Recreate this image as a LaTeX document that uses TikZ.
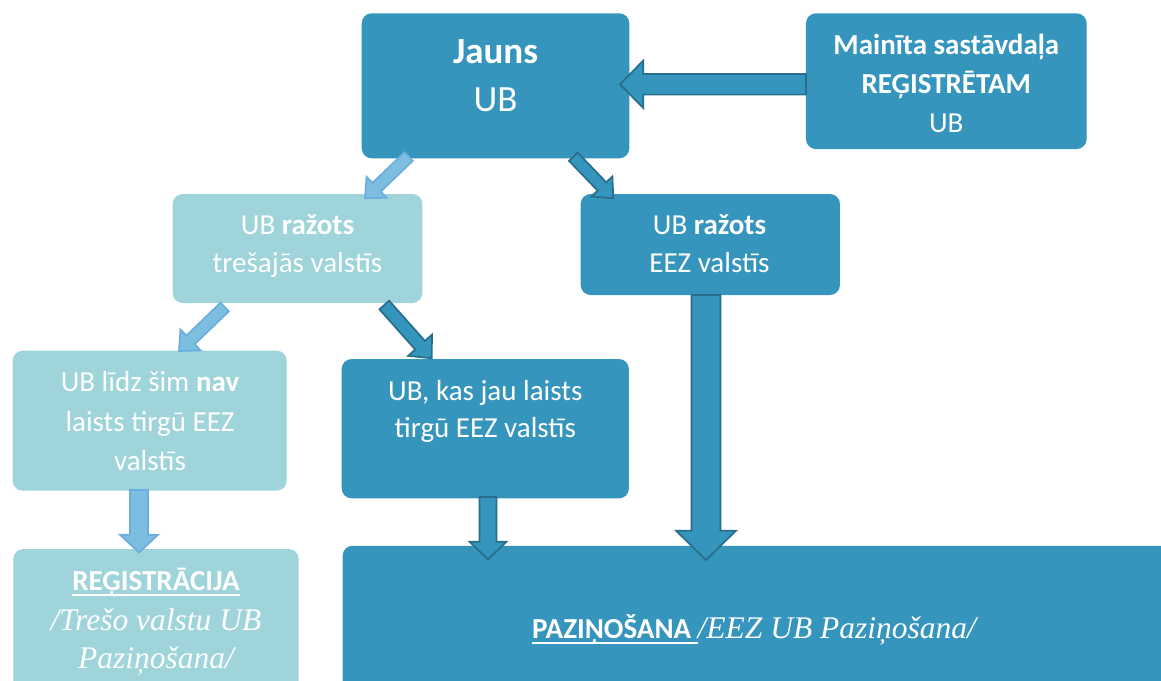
\documentclass[tikz,border=0pt]{standalone}
\usepackage{fontspec}
\setmainfont{Carlito}
\newfontfamily\tnr{Liberation Serif}
\usetikzlibrary{calc}
\definecolor{dk}{RGB}{53,149,188}
\definecolor{dkline}{RGB}{38,110,140}
\definecolor{lt}{RGB}{158,212,218}
\definecolor{la}{RGB}{125,189,224}
\definecolor{laline}{RGB}{106,174,222}
\newcommand\myul[1]{{\setbox0\hbox{#1}\rlap{\rule[-5.2pt]{\wd0}{1.9pt}}\box0}}
\newcommand\blockarr[6]{%
  \coordinate (ba-h) at ($(#3)!#6!(#2)$);
  \draw[#1] ($(#2)!#4!90:(#3)$) -- ($(ba-h)!#4!90:(#3)$) -- ($(ba-h)!#5!90:(#3)$) -- (#3) -- ($(ba-h)!#5!-90:(#3)$) -- ($(ba-h)!#4!-90:(#3)$) -- ($(#2)!#4!-90:(#3)$) -- cycle;}
\tikzset{
  box/.style={rectangle, rounded corners=10pt, inner sep=0pt, draw=none},
  darkbox/.style={box, fill=dk},
  lightbox/.style={box, fill=lt},
  txt/.style={anchor=base, inner sep=0pt, text=white, font=\fontsize{29pt}{39pt}\selectfont},
  bigtxt/.style={txt, font=\fontsize{37pt}{42pt}\selectfont},
  serif/.style={txt, font=\tnr\itshape\fontsize{31.5pt}{38pt}\selectfont},
  darkarrow/.style={fill=dk, draw=dkline, line width=1.7pt, line join=miter},
  lightarrow/.style={fill=la, draw=laline, line width=1.7pt, line join=miter},
}
\begin{document}
\begin{tikzpicture}[x=1pt,y=-1pt]
\useasboundingbox (0,0) rectangle (1161,680);
\clip (0,0) rectangle (1161,680);
% boxes
\node[darkbox, minimum width=267.6pt, minimum height=145pt] (jauns) at (495.5,85.8) {};
\node[darkbox, minimum width=280.7pt, minimum height=135.7pt] (mainita) at (946.3,81.2) {};
\node[lightbox, minimum width=249.6pt, minimum height=109pt] (tres) at (297.5,248.5) {};
\node[darkbox, minimum width=259.3pt, minimum height=101pt] (eez) at (710.3,244.5) {};
\node[lightbox, minimum width=274pt, minimum height=140pt] (nav) at (149.7,420.7) {};
\node[darkbox, minimum width=287.3pt, minimum height=139.3pt] (kas) at (485.3,428.7) {};
\node[lightbox, minimum width=285.4pt, minimum height=151pt] (reg) at (156,624.5) {};
\node[darkbox, minimum width=837.4pt, minimum height=154.3pt] (paz) at (761.3,622.9) {};
% arrow end points
\coordinate (m-t) at (806,84.3);   \coordinate (m-h) at (620,84.3);
\coordinate (j1-t) at (408.7,156.5); \coordinate (j1-h) at (365,198.3);
\coordinate (j2-t) at (573.3,156.7); \coordinate (j2-h) at (613.3,198.3);
\coordinate (t1-t) at (224.7,307);   \coordinate (t1-h) at (179,351);
\coordinate (t2-t) at (384.3,305);   \coordinate (t2-h) at (431.7,358.3);
\coordinate (n-t) at (139,490);      \coordinate (n-h) at (139,552.5);
\coordinate (k-t) at (488,497);      \coordinate (k-h) at (488,559.3);
\coordinate (e-t) at (706,295);      \coordinate (e-h) at (706,560);
% arrows
\blockarr{darkarrow}{m-t}{m-h}{10.3pt}{23.8pt}{23.3pt}
\blockarr{lightarrow}{j1-t}{j1-h}{6pt}{14.5pt}{16pt}
\blockarr{darkarrow}{j2-t}{j2-h}{6pt}{14.5pt}{16.4pt}
\blockarr{lightarrow}{t1-t}{t1-h}{6pt}{14.5pt}{16pt}
\blockarr{darkarrow}{t2-t}{t2-h}{6.5pt}{16pt}{17.5pt}
\blockarr{lightarrow}{n-t}{n-h}{9pt}{19pt}{17.7pt}
\blockarr{darkarrow}{k-t}{k-h}{8.5pt}{18.5pt}{17.6pt}
\blockarr{darkarrow}{e-t}{e-h}{14.5pt}{30pt}{29.3pt}
% texts
\node[bigtxt] (jauns-1) at (495.5,63.3) {\bfseries Jauns};
\node[bigtxt] (jauns-2) at (495.5,111.7) {UB};
\node[txt] (mainita-1) at (946.3,54) {\bfseries Mainīta sastāvdaļa};
\node[txt] (mainita-2) at (946.3,93) {\bfseries REĢISTRĒTAM};
\node[txt] (mainita-3) at (946.3,132) {UB};
\node[txt] (tres-1) at (297.5,234) {UB \textbf{ražots}};
\node[txt] (tres-2) at (297.5,272) {trešajās valstīs};
\node[txt] (eez-1) at (709.5,234) {UB \textbf{ražots}};
\node[txt] (eez-2) at (709.5,272) {EEZ valstīs};
\node[txt] (nav-1) at (150,391.7) {UB līdz šim \textbf{nav}};
\node[txt] (nav-2) at (150,431) {laists tirgū EEZ};
\node[txt] (nav-3) at (150,470) {valstīs};
\node[txt] (kas-1) at (485.3,400) {UB, kas jau laists};
\node[txt] (kas-2) at (485.3,437.7) {tirgū EEZ valstīs};
\node[txt] (reg-1) at (156,590.7) {\myul{\bfseries REĢISTRĀCIJA}};
\node[serif] (reg-2) at (156,630) {/Trešo valstu UB};
\node[serif] (reg-3) at (156,668) {Paziņošana/};
\node[txt, anchor=base west] (paz-1) at (532,638.3) {\myul{\bfseries PAZIŅOŠANA }{\tnr\itshape\fontsize{31.5pt}{38pt}\selectfont /EEZ UB Paziņošana/}};
\end{tikzpicture}
\end{document}
